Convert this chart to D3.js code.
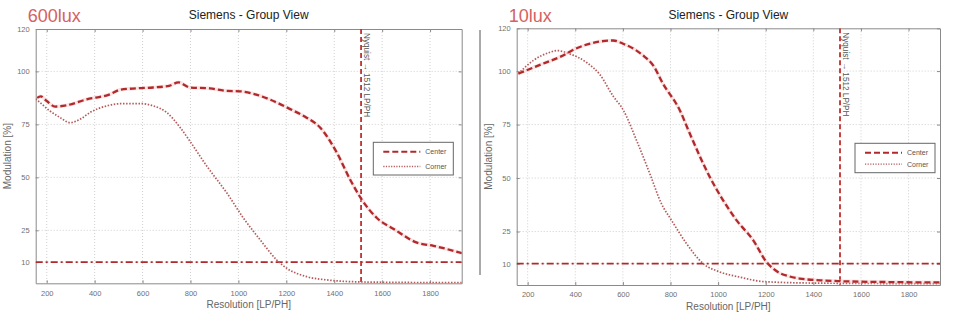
<!DOCTYPE html>
<html>
<head>
<meta charset="utf-8">
<script src="https://cdn.jsdelivr.net/npm/d3@7"></script>
<style>
  html, body { margin: 0; padding: 0; background: #fff; }
  svg { display: block; font-family: "Liberation Sans", Arial, sans-serif; }
</style>
</head>
<body>
<svg id="chart" width="960" height="328"></svg>
<script>
// Resolution axis ticks and modulation axis ticks
const xTicks = [200, 400, 600, 800, 1000, 1200, 1400, 1600, 1800];
const yTicks = [10, 25, 50, 75, 100, 120];
const xDomain = [154, 1932];
const yDomain = [0, 120];
const nyquist = 1512;
const threshold = 10;

// 600 lux measurements
const lux600CenterRes = [160, 175, 200, 235, 283, 367, 464, 506, 576, 644, 711, 750, 798, 881, 952, 1007, 1070, 1130, 1216, 1280, 1341, 1411, 1466, 1515, 1578, 1650, 1745, 1814, 1933];
const lux600CenterMod = [87.5, 88.2, 86, 83.4, 84, 86.8, 89.2, 91.3, 92, 92.4, 93.2, 94.8, 92.4, 92, 90.8, 90.6, 89.2, 86.8, 82.2, 78.5, 73.5, 61.6, 49, 39.5, 30.8, 25.5, 19.2, 17.7, 14.2];
const lux600CornerRes = [154, 172, 214, 256, 297, 339, 381, 450, 520, 590, 645, 701, 757, 798, 868, 952, 1021, 1091, 1160, 1202, 1286, 1369, 1466, 1600, 1933];
const lux600CornerMod = [87, 85.3, 81.3, 78.2, 75.8, 77.4, 80.6, 83.7, 84.8, 84.8, 83.7, 80.6, 73.5, 67, 55.3, 42.6, 30.8, 20.5, 11, 7.1, 3.1, 1.6, 0.8, 0.5, 0.3];

// 10 lux measurements
const lux10CenterRes = [161, 196, 265, 336, 406, 503, 559, 601, 685, 727, 769, 839, 881, 965, 1021, 1077, 1147, 1203, 1232, 1260, 1300, 1343, 1430, 1511, 1700, 1930];
const lux10CenterMod = [98.8, 100.4, 103.5, 106.6, 110.7, 113.8, 114.3, 112.8, 107.3, 102.7, 94, 81.7, 70.8, 50.5, 39.6, 30.3, 21, 10.8, 7.6, 5.5, 4, 3, 2.2, 1.8, 1.4, 1.2];
const lux10CornerRes = [161, 224, 294, 322, 378, 448, 503, 559, 601, 657, 713, 762, 804, 867, 937, 1007, 1091, 1189, 1399, 1930];
const lux10CornerMod = [98.8, 105, 108.8, 109.6, 108, 104, 98.4, 88.3, 81.9, 67.7, 52.1, 38, 30.3, 19.4, 10, 6.1, 3.7, 1.6, 0.9, 0.6];

const seriesNames = ["Center", "Corner"];
const panelTitle = "Siemens - Group View";
const xLabel = "Resolution [LP/PH]";
const yLabel = "Modulation [%]";
const nyquistLabel = "Nyquist \u2192 1512 LP/PH";

const svg = d3.select("#chart");
const zip = (xs, ys) => xs.map((x, i) => [x, ys[i]]);

const panels = [
  { tag: "600lux", left: 35.7, right: 461.7, top: 29, bottom: 283.3,
    center: zip(lux600CenterRes, lux600CenterMod), corner: zip(lux600CornerRes, lux600CornerMod),
    legend: { x: 373.3, y: 142.3, w: 80, h: 32.7 } },
  { tag: "10lux", left: 516.7, right: 940, top: 28.3, bottom: 285,
    center: zip(lux10CenterRes, lux10CenterMod), corner: zip(lux10CornerRes, lux10CornerMod),
    legend: { x: 855, y: 143.3, w: 80, h: 29.4 } }
];

const red = "#b1292b";
const cornerCol = "#b45a5a";

panels.forEach(p => {
  const x = d3.scaleLinear().domain(xDomain).range([p.left, p.right]);
  const y = d3.scaleLinear().domain(yDomain).range([p.bottom, p.top]);
  const g = svg.append("g");
  const midX = (p.left + p.right) / 2;

  // plot area
  g.append("rect").attr("x", p.left).attr("y", p.top)
    .attr("width", p.right - p.left).attr("height", p.bottom - p.top)
    .attr("fill", "#fff");

  // dotted grid
  g.append("g").selectAll("line").data(xTicks).join("line")
    .attr("x1", d => x(d)).attr("x2", d => x(d)).attr("y1", p.top).attr("y2", p.bottom)
    .attr("stroke", "#c4c4c4").attr("stroke-width", 0.8).attr("stroke-dasharray", "1,2");
  g.append("g").selectAll("line").data(yTicks.filter(d => d < 120)).join("line")
    .attr("y1", d => y(d)).attr("y2", d => y(d)).attr("x1", p.left).attr("x2", p.right)
    .attr("stroke", "#c4c4c4").attr("stroke-width", 0.8).attr("stroke-dasharray", "1,2");

  // axes with inward ticks on all sides
  const styleAxis = sel => {
    sel.select(".domain").attr("stroke", "#8a8a8a").attr("stroke-width", 1);
    sel.selectAll(".tick line").attr("stroke", "#8a8a8a");
    sel.selectAll(".tick text").attr("fill", "#707070").attr("font-size", 7.5)
      .attr("font-family", "Liberation Sans, Arial, sans-serif");
  };
  const fmt = d3.format("d");
  g.append("g").attr("transform", `translate(0,${p.bottom})`)
    .call(d3.axisBottom(x).tickValues(xTicks).tickFormat(fmt).tickSize(-3).tickPadding(7).tickSizeOuter(0))
    .call(styleAxis);
  g.append("g").attr("transform", `translate(0,${p.top})`)
    .call(d3.axisTop(x).tickValues(xTicks).tickSize(-3).tickFormat("").tickSizeOuter(0))
    .call(styleAxis);
  g.append("g").attr("transform", `translate(${p.left},0)`)
    .call(d3.axisLeft(y).tickValues(yTicks).tickFormat(fmt).tickSize(-3).tickPadding(6).tickSizeOuter(0))
    .call(styleAxis);
  g.append("g").attr("transform", `translate(${p.right},0)`)
    .call(d3.axisRight(y).tickValues(yTicks).tickSize(-3).tickFormat("").tickSizeOuter(0))
    .call(styleAxis);

  const line = d3.line().x(d => x(d[0])).y(d => y(d[1]));
  const clipId = "clip-" + p.tag;
  g.append("clipPath").attr("id", clipId).append("rect")
    .attr("x", p.left).attr("y", p.top).attr("width", p.right - p.left).attr("height", p.bottom - p.top);
  const plot = g.append("g").attr("clip-path", `url(#${clipId})`);

  // 10% threshold
  plot.append("line").attr("x1", p.left).attr("x2", p.right)
    .attr("y1", y(threshold)).attr("y2", y(threshold))
    .attr("stroke", red).attr("stroke-width", 1.8).attr("stroke-dasharray", "7,3,2,3");

  // Nyquist frequency
  plot.append("line").attr("x1", x(nyquist)).attr("x2", x(nyquist))
    .attr("y1", p.top).attr("y2", p.bottom)
    .attr("stroke", "#c0302e").attr("stroke-width", 1.8).attr("stroke-dasharray", "5,3");

  // corner series
  plot.append("path").datum(p.corner).attr("d", line.curve(d3.curveMonotoneX))
    .attr("fill", "none").attr("stroke", cornerCol).attr("stroke-width", 1.7)
    .attr("stroke-dasharray", "1.5,1.6");

  // center series
  plot.append("path").datum(p.center).attr("d", line.curve(d3.curveMonotoneX))
    .attr("fill", "none").attr("stroke", "#f4c4c4").attr("stroke-width", 3.6).attr("opacity", 0.45);
  plot.append("path").datum(p.center).attr("d", line.curve(d3.curveMonotoneX))
    .attr("fill", "none").attr("stroke", red).attr("stroke-width", 2.3)
    .attr("stroke-dasharray", "6,3");

  // Nyquist annotation
  g.append("text")
    .attr("transform", `translate(${x(nyquist) + 3},${p.top + 4}) rotate(90)`)
    .attr("font-size", 8.2).attr("fill", "#555")
    .text(nyquistLabel);

  // legend
  const L = p.legend;
  const lg = g.append("g");
  lg.append("rect").attr("x", L.x).attr("y", L.y).attr("width", L.w).attr("height", L.h)
    .attr("fill", "#fff").attr("stroke", "#666").attr("stroke-width", 1);
  const rowY = [L.y + 9.5, L.y + L.h - 8.5];
  lg.append("line").attr("x1", L.x + 10).attr("x2", L.x + 47).attr("y1", rowY[0]).attr("y2", rowY[0])
    .attr("stroke", red).attr("stroke-width", 2).attr("stroke-dasharray", "6,3");
  lg.append("line").attr("x1", L.x + 10).attr("x2", L.x + 47).attr("y1", rowY[1]).attr("y2", rowY[1])
    .attr("stroke", cornerCol).attr("stroke-width", 1.3).attr("stroke-dasharray", "1.2,1.4");
  seriesNames.forEach((s, i) => {
    lg.append("text").attr("x", L.x + 52).attr("y", rowY[i] + 2.5)
      .attr("font-size", 7).attr("fill", "#555").text(s);
  });

  // titles and axis labels
  g.append("text").attr("x", midX).attr("y", 19).attr("text-anchor", "middle")
    .attr("font-size", 12).attr("fill", "#222").text(panelTitle);
  g.append("text").attr("x", p.left - 8).attr("y", 22)
    .attr("font-size", 18).attr("fill", "#d46262").text(p.tag);
  g.append("text").attr("x", midX).attr("y", p.bottom + 25).attr("text-anchor", "middle")
    .attr("font-size", 10).attr("fill", "#666").text(xLabel);
  g.append("text")
    .attr("transform", `translate(${p.left - 25},${(p.top + p.bottom) / 2}) rotate(-90)`)
    .attr("text-anchor", "middle").attr("font-size", 10).attr("fill", "#666").text(yLabel);
});

// divider between the two views
svg.append("line").attr("x1", 480).attr("x2", 480).attr("y1", 30).attr("y2", 275)
  .attr("stroke", "#555").attr("stroke-width", 1);
</script>
</body>
</html>
